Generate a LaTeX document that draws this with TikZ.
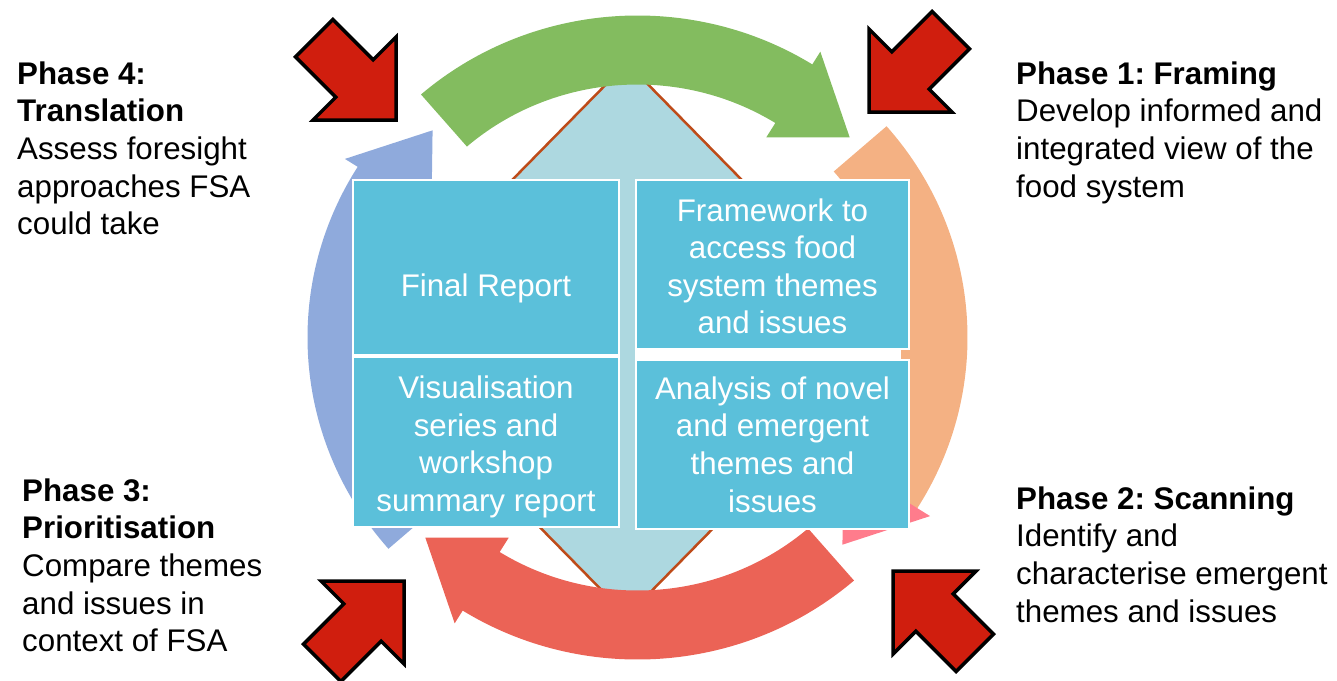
\documentclass[tikz,border=0pt]{standalone}
\usepackage{fontspec}
\setmainfont{Liberation Sans}
\usetikzlibrary{shapes.geometric}
\frenchspacing

\definecolor{arcgreen}{RGB}{131,188,95}
\definecolor{arcorange}{RGB}{244,177,131}
\definecolor{arcpink}{RGB}{255,124,140}
\definecolor{arcred}{RGB}{235,99,86}
\definecolor{arcblue}{RGB}{143,170,220}
\definecolor{boxcyan}{RGB}{91,192,218}
\definecolor{corefill}{RGB}{173,216,224}
\definecolor{coreedge}{RGB}{190,75,25}
\definecolor{pointred}{RGB}{208,30,14}

\begin{document}
\begin{tikzpicture}[x=1pt,y=1pt,line join=miter]
\tikzstyle{box}=[rectangle,fill=boxcyan,draw=white,line width=2.5pt,text=white,align=center,inner sep=0pt,font=\fontsize{31.3pt}{37.6pt}\selectfont]
\tikzstyle{phase}=[align=left,anchor=north west,inner sep=0pt,font=\fontsize{31.3pt}{37.6pt}\selectfont]
\tikzstyle{pointer}=[fill=pointred,draw=black,line width=3.5pt]

\useasboundingbox (0,0) rectangle (1337,-680);
\coordinate (c) at (637.5,-337.5);

% diamond behind everything
\node[diamond,draw=coreedge,line width=2.5pt,fill=corefill,minimum width=544pt,minimum height=554pt,inner sep=0pt] (core) at (627,-339.5) {};

% the four cycle arrows, clockwise
\begin{scope}[shift={(c)}]
\foreach \tail/\col/\hcol in {131/arcgreen/arcgreen,41/arcorange/arcpink,-49/arcred/arcred,-139/arcblue/arcblue}{
  \pgfmathsetmacro{\barb}{\tail-73}
  \pgfmathsetmacro{\bend}{\tail-73.5}
  \pgfmathsetmacro{\tip}{\tail-87}
  \fill[\col] (\tail:330pt and 322pt) arc[start angle=\tail,end angle=\bend,x radius=330pt,y radius=322pt]
    -- (\bend:260pt and 253pt) arc[start angle=\bend,end angle=\tail,x radius=260pt,y radius=253pt] -- cycle;
  \fill[\hcol] (\barb:345pt and 337pt) -- (\tip:295pt and 288pt) -- (\barb:243pt and 236pt) -- cycle;
}
\end{scope}

% outputs
\fill[white] (635,-348) rectangle (901,-360);
\node[box,minimum width=266pt,minimum height=175pt,text height=64pt] (report) at (486,-267.5) {Final Report};
\node[box,minimum width=273pt,minimum height=169pt,text height=139pt] (framework) at (772.5,-264.5) {Framework to\\access food\\system themes\\and issues};
\node[box,minimum width=266pt,minimum height=170pt,text height=145pt] (visual) at (486,-442) {Visualisation\\series and\\workshop\\summary report};
\node[box,minimum width=273pt,minimum height=169pt] (analysis) at (772.5,-444.5) {Analysis of novel\\and emergent\\themes and\\issues};

% red pointers
\foreach \x/\y/\r in {396/-120/0,869/-112/-90,404/-581/90,893/-571/180}
  \draw[pointer,shift={(\x,\y)},rotate=\r] (0,0) -- (0,83) -- (-22.8,60.2) -- (-63.1,100.5) -- (-100.5,63.1) -- (-60.2,22.8) -- (-83,0) -- cycle;

% phase texts
\node[phase] (phase4) at (17,-61.5) {\textbf{Phase 4:}\\\textbf{Translation}\\Assess foresight\\approaches FSA\\could take};
\node[phase] (phase1) at (1016,-61.5) {\textbf{Phase 1: Framing}\\Develop informed and\\integrated view of the\\food system};
\node[phase] (phase3) at (22,-478.5) {\textbf{Phase 3:}\\\textbf{Prioritisation}\\Compare themes\\and issues in\\context of FSA};
\node[phase] (phase2) at (1016,-486.5) {\textbf{Phase 2: Scanning}\\Identify and\\characterise emergent\\themes and issues};
\end{tikzpicture}
\end{document}
